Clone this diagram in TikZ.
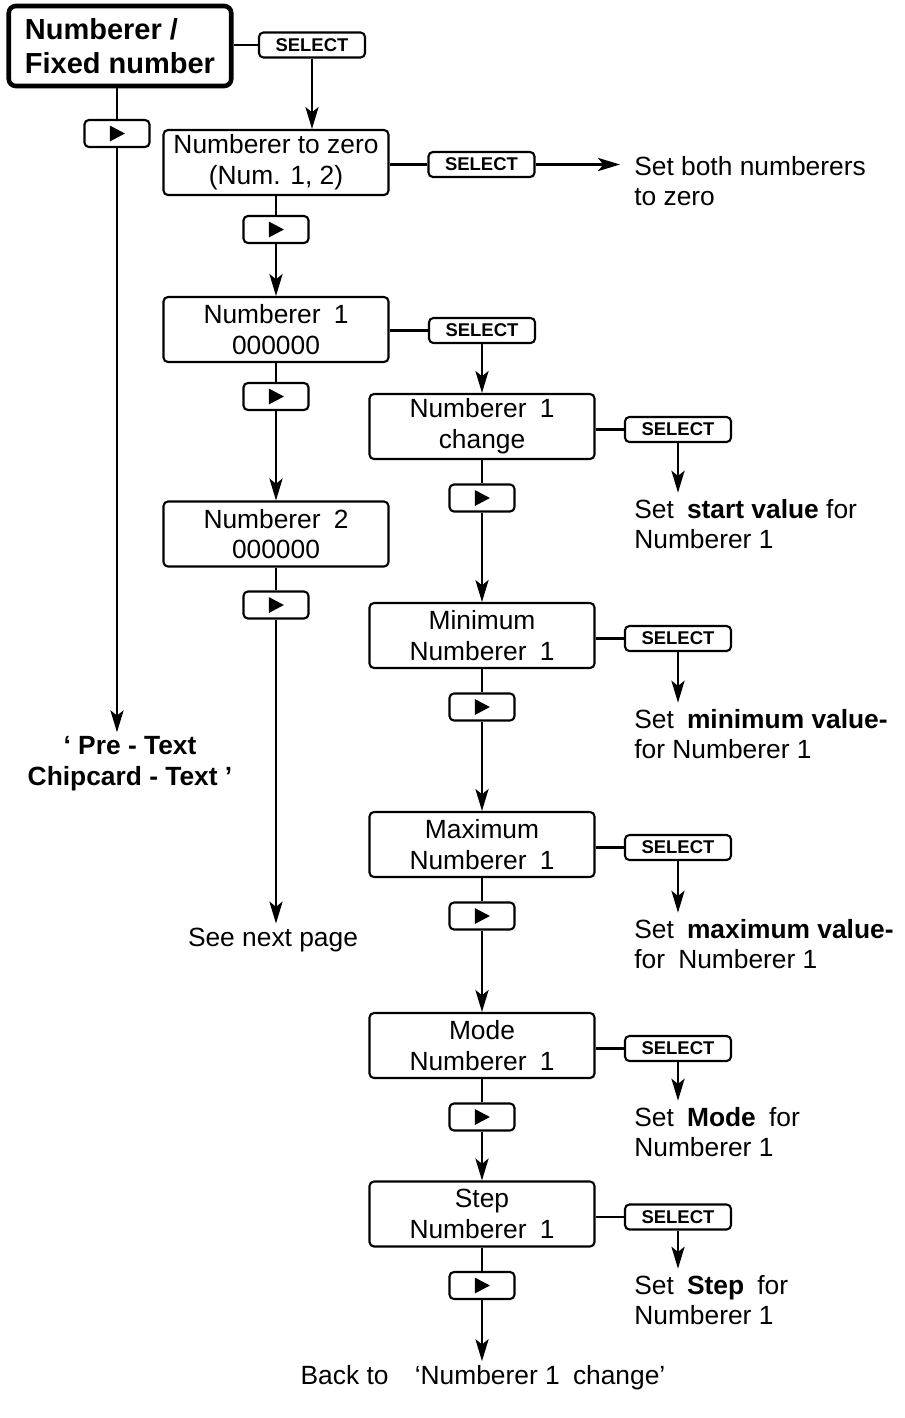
\documentclass[tikz,border=0pt]{standalone}
\usepackage{fontspec}
\setmainfont{Liberation Sans}
\usetikzlibrary{arrows.meta,positioning,calc}

\begin{document}
\begin{tikzpicture}[x=0.02cm,y=-0.02cm,line width=1.2pt,
    menu/.style={draw,rounded corners=2.5pt,minimum width=4.5cm,minimum height=1.3cm,
      inner sep=2pt,align=center,font=\fontsize{15}{17.5}\selectfont},
    mainbox/.style={draw,line width=2.6pt,rounded corners=4pt,minimum width=4.45cm,
      minimum height=1.6cm,align=left,font=\fontsize{16.5}{19}\selectfont\bfseries},
    selkey/.style={draw,rounded corners=2.5pt,minimum width=2.12cm,minimum height=0.5cm,
      inner sep=0pt,font=\fontsize{10.5}{12}\selectfont\bfseries},
    play/.style={draw,rounded corners=2.5pt,minimum width=1.3cm,minimum height=0.54cm,
      inner sep=0pt,path picture={\fill[sharp corners]
        ([shift={(-4pt,4.5pt)}]path picture bounding box.center)
        -- ++(8.5pt,-4.5pt) -- ++(-8.5pt,-4.5pt) -- cycle;}},
    note/.style={anchor=west,align=left,inner sep=3pt,font=\fontsize{15}{17.5}\selectfont},
    plain/.style={align=center,inner sep=2pt,font=\fontsize{15}{17.5}\selectfont},
    arr/.style={-{Stealth[length=12.5pt,width=7.5pt,inset=3pt]}}]
  \useasboundingbox (0,0) rectangle (905,1418);

  % left part
  \node[mainbox] (top) at (120,46) {Numberer /\\Fixed number};
  \node[selkey] (s0) at (312,45) {SELECT};
  \node[play] (p0) at (117,133.5) {};
  \node[plain,font=\fontsize{15}{17.5}\selectfont\bfseries] (pre) at (130,764)
    {‘ Pre - Text\\Chipcard - Text ’};

  \node[menu] (zero) at (276,162.5) {Numberer to zero\\(Num. 1, 2)};
  \node[selkey] (s1) at (481.5,164.5) {SELECT};
  \node[note] (tz) at (628,181) {Set both numberers\\to zero};
  \coordinate (tzin) at (620,164.5);
  \node[play] (p1) at (276,229.5) {};
  \node[menu] (n1) at (276,329.5) {Numberer\enspace 1\\000000};
  \node[selkey] (s2) at (482,330.5) {SELECT};
  \node[play] (p2) at (276,396.5) {};
  \node[menu] (n2) at (276,534) {Numberer\enspace 2\\000000};
  \node[play] (p3) at (276,605) {};
  \node[plain] (nxt) at (273,940) {See next page};

  \draw (top.east |- s0) -- (s0);
  \draw[arr] (s0) -- (s0 |- zero.north);
  \draw (p0 |- top.south) -- (p0);
  \draw[arr] (p0) -- (p0 |- pre.north);
  \draw (zero.east |- s1) -- (s1);
  \draw[arr] (s1) -- (tzin);
  \draw (zero) -- (p1);
  \draw[arr] (p1) -- (n1);
  \draw (n1) -- (p2);
  \draw[arr] (p2) -- (n2);
  \draw (n2) -- (p3);
  \draw[arr] (p3) -- (p3 |- nxt.north);
  \draw (n1.east |- s2) -- (s2);

  % right column
  \foreach \i/\y/\ty/\lbl/\act in {
      1/426.5/524/{Numberer\enspace 1\\change}/{Set\enspace\textbf{start value} for\\Numberer 1},
      2/635.5/734/{Minimum\\Numberer\enspace 1}/{Set\enspace\textbf{minimum value-}\\for Numberer 1},
      3/844.5/944/{Maximum\\Numberer\enspace 1}/{Set\enspace\textbf{maximum value-}\\for\enspace Numberer 1},
      4/1045.5/1132/{Mode\\Numberer\enspace 1}/{Set\enspace\textbf{Mode}\enspace for\\Numberer 1},
      5/1214/1300/{Step\\Numberer\enspace 1}/{Set\enspace\textbf{Step}\enspace for\\Numberer 1}}{
    \node[menu] (r\i) at (482,\y) {\lbl};
    \node[selkey] (rs\i) at (678,\y+3) {SELECT};
    \node[play] (rp\i) at (482,\y+71.5) {};
    \node[note] (rt\i) at (628,\ty) {\act};
    \draw (r\i.east |- rs\i) -- (rs\i);
    \draw[arr] (rs\i) -- (rs\i |- rt\i.north);
    \draw (r\i) -- (rp\i);
  }
  \foreach \i/\j in {1/2,2/3,3/4,4/5}
    \draw[arr] (rp\i) -- (r\j);

  \node[plain] (back) at (483,1378) {Back to\quad ‘Numberer 1\enspace change’};
  \draw[arr] (s2) -- (r1);
  \draw[arr] (rp5) -- (rp5 |- back.north);
\end{tikzpicture}
\end{document}
